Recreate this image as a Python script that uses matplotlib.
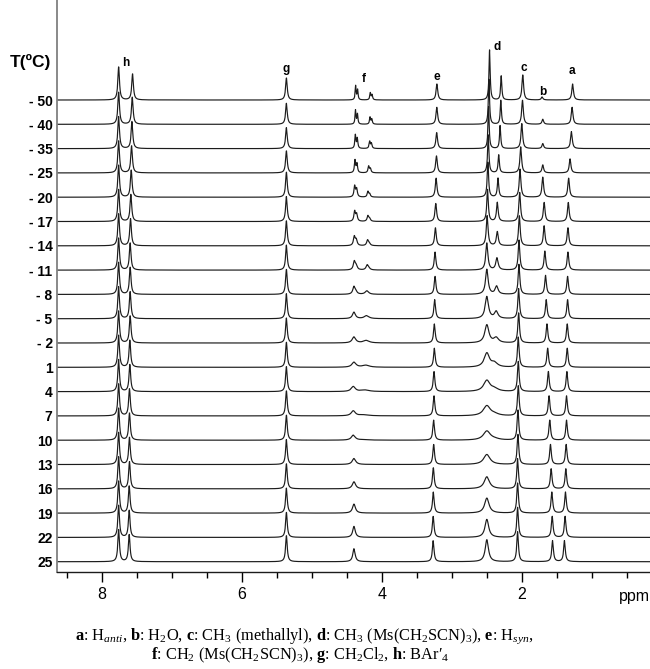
import numpy as np
import matplotlib
matplotlib.use('Agg')
import matplotlib.pyplot as plt

# temperatures of the stacked spectra, top to bottom
temps = [-50, -40, -35, -25, -20, -17, -14, -11, -8, -5, -2, 1, 4, 7, 10, 13, 16, 19, 22, 25]

# peak parameters: position (ppm), height (px), half width (ppm)
# h : BAr'4 (two lines)
h1_pos = 7.765
h1_hgt = [33, 32, 32, 32, 32, 32, 32, 32, 32, 32, 32, 32, 32, 32, 32, 32, 32, 32, 32, 32]
h2_pos = [7.566, 7.57, 7.575, 7.58, 7.585, 7.59, 7.595, 7.60, 7.60, 7.60,
          7.60, 7.605, 7.605, 7.61, 7.61, 7.61, 7.61, 7.614, 7.614, 7.614]
h2_hgt = [26, 27, 27, 27, 27, 27, 27, 27, 27, 27, 27, 27, 27, 27, 27, 27, 27, 27, 27, 27]
# g : CH2Cl2
g_pos = 5.366
g_hgt = [22, 21, 21, 22, 25, 25, 25, 25, 25, 25, 25, 25, 25, 25, 25, 25, 25, 25, 25, 26]
# f : CH2 (two multiplets that merge)
f1_pos = [4.376, 4.378, 4.38, 4.385, 4.39, 4.39, 4.395, 4.395, 4.40, 4.40,
          4.40, 4.40, 4.41, 4.41, 4.41, 4.40, 4.40, 4.40, 4.40, 4.40]
f1_hgt = [14, 14, 13.5, 12.5, 11, 10, 9, 8.5, 7.5, 6.5, 6, 5, 5, 5, 5, 6, 7, 9, 11, 13]
f1_wid = [0.008, 0.008, 0.009, 0.01, 0.012, 0.013, 0.015, 0.017, 0.02, 0.025,
          0.03, 0.035, 0.035, 0.035, 0.033, 0.03, 0.028, 0.025, 0.022, 0.02]
f1b_hgt = [10, 10, 10, 9, 8, 7, 5.5, 4, 2, 0, 0, 0, 0, 0, 0, 0, 0, 0, 0, 0]
f2_pos = [4.166, 4.17, 4.175, 4.19, 4.20, 4.20, 4.205, 4.21, 4.215, 4.22,
          4.225, 4.23, 4.24, 4.25, 4.25, 4.25, 4.25, 4.25, 4.25, 4.25]
f2_hgt = [7, 7, 7, 6.5, 5.5, 5.5, 5.5, 5, 3.5, 3, 2.5, 2, 1.5, 1, 0.5, 0, 0, 0, 0, 0]
f2_wid = [0.009, 0.009, 0.01, 0.011, 0.012, 0.014, 0.016, 0.02, 0.03, 0.04,
          0.05, 0.06, 0.07, 0.08, 0.08, 0.08, 0.08, 0.08, 0.08, 0.08]
f2b_hgt = [5, 5, 5, 4, 3, 2.5, 2, 1, 0, 0, 0, 0, 0, 0, 0, 0, 0, 0, 0, 0]
# e : H syn
e_pos = [3.214, 3.215, 3.217, 3.22, 3.225, 3.23, 3.235, 3.24, 3.24, 3.245,
         3.25, 3.25, 3.255, 3.255, 3.26, 3.26, 3.265, 3.265, 3.267, 3.267]
e_hgt = [16, 17, 16, 17, 19, 18, 18, 18, 18, 19, 19, 19, 20, 20, 20, 20, 21, 21, 21, 21]
# d : CH3 (Ms(CH2SCN)3) and its second site
d_pos = [2.461, 2.47, 2.475, 2.48, 2.485, 2.49, 2.495, 2.50, 2.50, 2.50,
         2.50, 2.50, 2.50, 2.50, 2.50, 2.50, 2.50, 2.50, 2.50, 2.50]
d_hgt = [50, 45, 42, 38, 35, 32, 30, 27, 25, 22, 18, 14, 11, 10, 9, 10, 12, 15, 18, 22]
d_wid = [0.01, 0.01, 0.01, 0.011, 0.012, 0.013, 0.015, 0.018, 0.022, 0.028,
         0.035, 0.045, 0.055, 0.06, 0.06, 0.055, 0.045, 0.038, 0.032, 0.028]
d2_pos = [2.294, 2.30, 2.31, 2.33, 2.34, 2.35, 2.35, 2.355, 2.36, 2.366,
          2.366, 2.39, 2.39, 2.39, 2.39, 2.39, 2.39, 2.39, 2.39, 2.39]
d2_hgt = [24, 24, 23, 18, 19, 19, 14, 12, 8, 7, 5, 4, 2.5, 1.5, 1, 0, 0, 0, 0, 0]
d2_wid = [0.01, 0.01, 0.01, 0.011, 0.012, 0.014, 0.016, 0.02, 0.025, 0.03,
          0.04, 0.05, 0.06, 0.07, 0.08, 0.08, 0.08, 0.08, 0.08, 0.08]
# c : CH3 (methallyl)
c_pos = [1.986, 1.99, 2.00, 2.015, 2.025, 2.03, 2.035, 2.04, 2.04, 2.045,
         2.045, 2.05, 2.05, 2.05, 2.055, 2.055, 2.06, 2.06, 2.06, 2.06]
c_hgt = [25, 24, 25, 26, 28, 29, 30, 30, 30, 30, 30, 30, 30, 30, 30, 30, 30, 30, 30, 30]
# b : H2O
b_pos = [1.71, 1.70, 1.70, 1.70, 1.70, 1.68, 1.68, 1.67, 1.66, 1.65,
         1.64, 1.63, 1.62, 1.61, 1.60, 1.59, 1.58, 1.57, 1.565, 1.56]
b_hgt = [3, 5, 5, 8, 20, 19, 20, 19, 19, 19, 19, 19, 20, 20, 20, 20, 20, 21, 21, 21]
# a : H anti
a_pos = [1.273, 1.28, 1.29, 1.31, 1.33, 1.335, 1.34, 1.34, 1.345, 1.345,
         1.35, 1.35, 1.355, 1.36, 1.36, 1.365, 1.37, 1.375, 1.38, 1.39]
a_hgt = [16, 17, 17, 14, 19, 19, 18, 18, 18, 19, 19, 19, 20, 20, 20, 20, 20, 21, 21, 21]

sharp = 0.014  # half width of the narrow lines

# peak letters and where they sit (ppm, px above axis)
letters = ['h', 'g', 'f', 'e', 'd', 'c', 'b', 'a']
letter_x = [7.66, 5.376, 4.26, 3.22, 2.36, 1.97, 1.70, 1.28]
letter_y = [509, 503, 493, 495, 525, 504, 480, 501]

caption1 = (r'$\mathbf{a}$: H$_{\mathit{anti}}$, $\mathbf{b}$: H$_2$O, '
            r'$\mathbf{c}$: CH$_3$ (methallyl), $\mathbf{d}$: CH$_3$ (Ms(CH$_2$SCN)$_3$), '
            r'$\mathbf{e}$: H$_{\mathit{syn}}$,')
caption2 = (r'$\mathbf{f}$: CH$_2$ (Ms(CH$_2$SCN)$_3$), $\mathbf{g}$: CH$_2$Cl$_2$, '
            '$\\mathbf{h}$: BAr\u2032$_4$')

plt.rcParams['mathtext.fontset'] = 'custom'
plt.rcParams['mathtext.rm'] = 'Liberation Serif'
plt.rcParams['mathtext.it'] = 'Liberation Serif:italic'
plt.rcParams['mathtext.bf'] = 'Liberation Serif:bold'

n = len(temps)


def row(v):
    return np.broadcast_to(np.asarray(v, dtype=float), (n,))


def lorentz(x, pos, hgt, wid):
    return hgt * wid ** 2 / ((x - pos) ** 2 + wid ** 2)


peaks = [
    (row(h1_pos), row(h1_hgt), row(sharp)),
    (row(h2_pos), row(h2_hgt), row(sharp)),
    (row(g_pos), row(g_hgt), row(sharp)),
    (row(f1_pos), row(f1_hgt), row(f1_wid)),
    (row(f1_pos) - 0.028, row(f1b_hgt), row(f1_wid)),
    (row(f2_pos), row(f2_hgt), row(f2_wid)),
    (row(f2_pos) - 0.025, row(f2b_hgt), row(f2_wid)),
    (row(e_pos), row(e_hgt), row(sharp)),
    (row(d_pos), row(d_hgt), row(d_wid)),
    (row(d2_pos), row(d2_hgt), row(d2_wid)),
    (row(c_pos), row(c_hgt), row(sharp)),
    (row(b_pos), row(b_hgt), row(sharp)),
    (row(a_pos), row(a_hgt), row(sharp)),
]

W, H = 650, 669
fig = plt.figure(figsize=(W / 100, H / 100), dpi=100)
left_px, bottom_px = 56.7, 572
ax = fig.add_axes([left_px / W, 1 - bottom_px / H, 1 - left_px / W, bottom_px / H])

xmin, xmax = 0.167, 8.651
x = np.linspace(xmin, xmax, 16000)
top_row_px, spacing = 100, 24.3
bases = []
for k in range(n):
    base = bottom_px - (top_row_px + spacing * k)
    bases.append(base)
    y = np.full_like(x, base)
    for pos, hgt, wid in peaks:
        if hgt[k] > 0:
            y += lorentz(x, pos[k], hgt[k], wid[k])
    ax.plot(x, y, color='#1c1c1c', lw=0.85)

ax.set_xlim(xmax, xmin)
ax.set_ylim(0, bottom_px)

labels = ['- %d' % -t if t < 0 else str(t) for t in temps]
ax.set_yticks(bases)
ax.set_yticklabels(labels, fontfamily='Liberation Sans', fontweight='bold', fontsize=10)
ax.tick_params(axis='y', length=0, pad=3)

ax.set_xticks([8, 6, 4, 2])
ax.set_xticklabels(['8', '6', '4', '2'], fontfamily='Liberation Sans', fontsize=11.5)
ax.set_xticks(np.arange(0.5, 8.6, 0.5), minor=True)
ax.tick_params(axis='x', which='major', direction='out', length=7.5, width=1.0, pad=3)
ax.tick_params(axis='x', which='minor', direction='out', length=4.5, width=1.0)

for s in ['top', 'right']:
    ax.spines[s].set_visible(False)
ax.spines['left'].set_color('#808080')
ax.spines['left'].set_linewidth(1.3)
ax.spines['bottom'].set_color('#1c1c1c')
ax.spines['bottom'].set_linewidth(1.0)

for lab, lx, ly in zip(letters, letter_x, letter_y):
    ax.text(lx, ly, lab, ha='center', va='center', fontfamily='Liberation Sans',
            fontweight='bold', fontsize=8.5)

fig.text(30.5 / W, 1 - 62 / H, 'T(ºC)', ha='center', va='center',
         fontfamily='Liberation Sans', fontweight='bold', fontsize=12.5)
fig.text(634 / W, 1 - 597 / H, 'ppm', ha='center', va='center',
         fontfamily='Liberation Sans', fontsize=11.5)

fig.text(304 / W, 1 - 636 / H, caption1, ha='center', va='center',
         fontfamily=['Liberation Serif', 'DejaVu Serif'], fontsize=11.8)
fig.text(300 / W, 1 - 655 / H, caption2, ha='center', va='center',
         fontfamily=['Liberation Serif', 'DejaVu Serif'], fontsize=11.8)

fig.savefig('out.png', dpi=100)
